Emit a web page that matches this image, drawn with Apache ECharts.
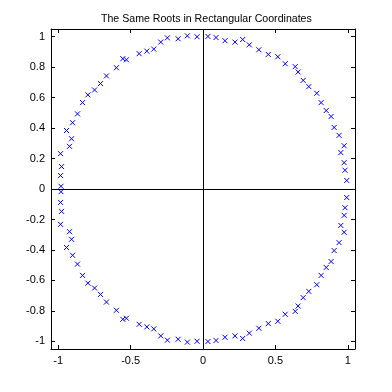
<!DOCTYPE html>
<html><head><meta charset="utf-8">
<script src="https://cdn.jsdelivr.net/npm/echarts@6/dist/echarts.min.js"></script>
<style>html,body{margin:0;padding:0;background:#fff}#c{width:392px;height:392px}</style>
</head><body><div id="c"></div>
<script>
// Upper-half roots (x, y); lower half are the complex conjugates
const upperX = [-0.981,-0.984,-0.977,-0.984,-0.922,-0.908,-0.943,-0.901,-0.867,-0.832,-0.795,-0.749,-0.708,-0.667,-0.598,-0.554,-0.529,-0.441,-0.388,-0.340,-0.292,-0.246,-0.172,-0.108,-0.041,
  0.034,0.090,0.152,0.221,0.274,0.320,0.386,0.451,0.517,0.568,0.637,0.657,0.692,0.731,0.786,0.816,0.851,0.885,0.906,0.940,0.975,0.952,0.975,0.981,0.993];
const upperY = [0.018,0.088,0.147,0.232,0.280,0.330,0.384,0.435,0.493,0.567,0.618,0.650,0.692,0.742,0.796,0.855,0.848,0.888,0.905,0.918,0.964,0.992,0.986,1.005,0.999,
  1.001,0.994,0.973,0.964,0.981,0.946,0.914,0.883,0.868,0.822,0.803,0.768,0.713,0.672,0.628,0.567,0.515,0.476,0.404,0.352,0.284,0.239,0.173,0.123,0.056];
const xTicks = [-1,-0.5,0,0.5,1];
const yTicks = [-1,-0.8,-0.6,-0.4,-0.2,0,0.2,0.4,0.6,0.8,1];

const pts = [];
upperX.forEach((x,i)=>{ pts.push([x, upperY[i]]); pts.push([x, -upperY[i]]); });

const font = 'Liberation Sans, Arial, sans-serif';
const lim = 1.05;
function axisCommon(){
  return {
    type:'value', min:-lim, max:lim,
    axisLine:{show:true, onZero:false, lineStyle:{color:'#000', width:1}},
    splitLine:{show:false},
  };
}
const chart = echarts.init(document.getElementById('c'), null, {renderer:'canvas'});
chart.setOption({
  backgroundColor:'#fff',
  animation:false,
  title:{text:'The Same Roots in Rectangular Coordinates', left:96, top:9,
    textStyle:{fontFamily:font, fontSize:10.6, fontWeight:'normal', color:'#000'}},
  grid:{left:51, right:37, top:29, bottom:43},
  xAxis:[
    Object.assign(axisCommon(), {position:'bottom',
      axisTick:{show:true, inside:true, length:4, customValues:xTicks, lineStyle:{color:'#000'}},
      axisLabel:{show:true, customValues:xTicks, color:'#000', fontFamily:font, fontSize:11, margin:6,
        formatter:v=>String(v)}}),
    Object.assign(axisCommon(), {position:'top',
      axisTick:{show:true, inside:true, length:4, customValues:xTicks, lineStyle:{color:'#000'}},
      axisLabel:{show:false}})
  ],
  yAxis:[
    Object.assign(axisCommon(), {position:'left',
      axisTick:{show:true, inside:true, length:4, customValues:yTicks, lineStyle:{color:'#000'}},
      axisLabel:{show:true, customValues:yTicks, color:'#000', fontFamily:font, fontSize:11, margin:6,
        formatter:v=>String(Math.round(v*10)/10)}}),
    Object.assign(axisCommon(), {position:'right',
      axisTick:{show:true, inside:true, length:4, customValues:yTicks, lineStyle:{color:'#000'}},
      axisLabel:{show:false}})
  ],
  series:[{
    type:'scatter', xAxisIndex:0, yAxisIndex:0,
    data:pts,
    symbol:'path://M0 0L10 10M10 0L0 10',
    symbolSize:5,
    itemStyle:{color:'rgba(0,0,0,0)', borderColor:'#0000ff', borderWidth:1, opacity:1},
    emphasis:{disabled:true},
    markLine:{silent:true, symbol:['none','none'], label:{show:false},
      lineStyle:{color:'#000', width:1, type:'solid'},
      data:[{xAxis:0},{yAxis:0}]}
  }]
});
</script></body></html>
